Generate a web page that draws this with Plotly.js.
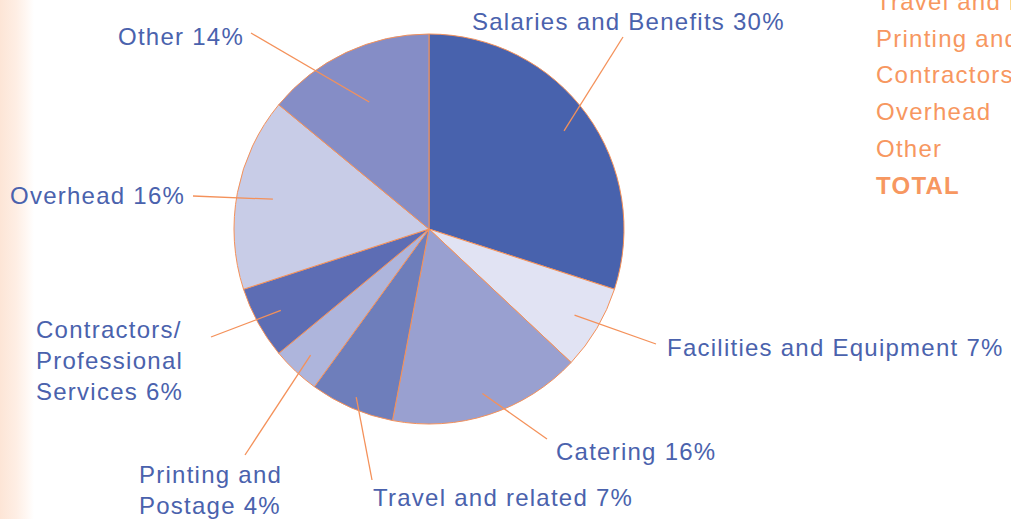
<!DOCTYPE html>
<html>
<head>
<meta charset="utf-8">
<script src="https://cdn.plot.ly/plotly-3.0.1.min.js"></script>
<style>
  html, body { margin:0; padding:0; width:1011px; height:519px; overflow:hidden;
    background: linear-gradient(to right, #fde5d6 0px, #feeee4 16px, #fff7f2 26px, #ffffff 34px); }
  #chart { width:1011px; height:519px; }
  .annotation-text { letter-spacing: 1.25px; }
</style>
</head>
<body>
<div id="chart"></div>
<script>
// ---- data ----
const categories = ["Salaries and Benefits", "Facilities and Equipment", "Catering", "Travel and related",
                    "Printing and Postage", "Contractors/Professional Services", "Overhead", "Other"];
const labelText = ["Salaries and Benefits", "Facilities and Equipment", "Catering", "Travel and related",
                   "Printing and<br>Postage", "Contractors/<br>Professional<br>Services", "Overhead", "Other"];
const percents = [30, 7, 16, 7, 4, 6, 16, 14];
const tableLabels = ["Travel and related", "Printing and Postage", "Contractors/Professional Services",
                     "Overhead", "Other", "<b>TOTAL</b>"];

// ---- styling / layout ----
const W = 1011, H = 519;
const CX = 429, CY = 229, R = 195;
const TX = -3; // annotation text padding compensation
const sliceColors = ["#4862ad", "#e1e3f3", "#99a0d0", "#6e7ebb", "#aeb5dc", "#5d6db4", "#c8cce7", "#858dc6"];
const blue = "#4a62ad", orange = "#f4915a", orangeText = "#f79760";
const FONT = "Liberation Sans, Arial, sans-serif";

// label placement (pixels): text left x, text middle y, leader outer end, leader inner radius fraction
const labelPos = [
  {x:473, y:22,    lx:623, ly:37,  r:0.856},
  {x:668, y:347,   lx:656, ly:344, r:0.867},
  {x:557, y:451,   lx:547, ly:439, r:0.887},
  {x:374, y:497,   lx:372, ly:480, r:0.94},
  {x:140, y:489.5, lx:245, ly:455, r:0.887},
  {x:37,  y:360.5, lx:211, ly:337, r:0.867},
  {x:11,  y:195,   lx:193, ly:196, r:0.815},
  {x:119, y:37,    lx:251, ly:33,  r:0.72}
];

const px = x => x / W;
const py = y => 1 - y / H;

const trace = {
  type: "pie",
  labels: categories,
  values: percents,
  sort: false,
  direction: "clockwise",
  rotation: 0,
  textinfo: "none",
  hoverinfo: "label+percent",
  showlegend: false,
  marker: { colors: sliceColors, line: { color: orange, width: 1 } },
  domain: { x: [px(CX - R), px(CX + R)], y: [py(CY + R), py(CY - R)] }
};

const total = percents.reduce((a, b) => a + b, 0);
const annotations = [];
const shapes = [];
let cum = 0;
percents.forEach((v, i) => {
  const mid = (cum + v / 2) / total * 2 * Math.PI;
  cum += v;
  const p = labelPos[i];
  const ix = CX + p.r * R * Math.sin(mid);
  const iy = CY - p.r * R * Math.cos(mid);
  shapes.push({ type: "line", xref: "paper", yref: "paper",
    x0: px(ix), y0: py(iy), x1: px(p.lx), y1: py(p.ly),
    line: { color: orange, width: 1.3 } });
  annotations.push({ xref: "paper", yref: "paper", x: px(p.x + TX), y: py(p.y),
    xanchor: "left", yanchor: "middle", align: "left", showarrow: false,
    text: labelText[i] + " " + v + "%",
    font: { family: FONT, size: 24, color: blue } });
});

tableLabels.forEach((t, i) => {
  annotations.push({ xref: "paper", yref: "paper", x: px(877 + TX), y: py(1 + 37 * i),
    xanchor: "left", yanchor: "middle", align: "left", showarrow: false,
    text: t, font: { family: FONT, size: 24, color: orangeText } });
});

const layout = {
  width: W, height: H,
  margin: { l: 0, r: 0, t: 0, b: 0 },
  paper_bgcolor: "rgba(0,0,0,0)",
  plot_bgcolor: "rgba(0,0,0,0)",
  shapes: shapes,
  annotations: annotations
};

Plotly.newPlot("chart", [trace], layout, { displayModeBar: false, staticPlot: true });
</script>
</body>
</html>
